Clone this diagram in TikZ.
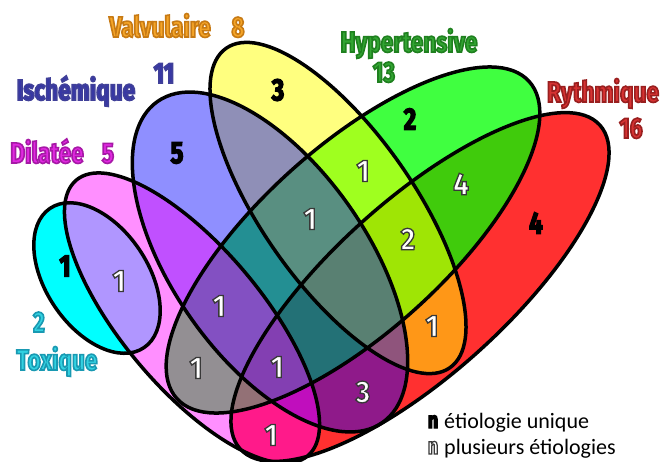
\documentclass[tikz,border=0pt]{standalone}
\usepackage{fontspec}
\setmainfont{Carlito}
\newfontfamily\labf[FakeStretch=0.78]{Fira Sans}
\newfontfamily\numf[FakeStretch=0.78]{Fira Sans}
\newfontfamily\wnumf[FakeStretch=0.9]{Fira Sans}
\definecolor{cRed}{RGB}{255,0,0}
\definecolor{cGreen}{RGB}{0,255,0}
\definecolor{cYellow}{RGB}{255,255,0}
\definecolor{cBlue}{RGB}{0,0,255}
\definecolor{cCyan}{RGB}{0,255,255}
\definecolor{cPink}{RGB}{255,0,255}
\definecolor{cLav}{RGB}{176,150,255}
\definecolor{tOrange}{RGB}{245,165,40}
\definecolor{tNavy}{RGB}{55,55,165}
\definecolor{tMag}{RGB}{225,40,225}
\definecolor{tGreen}{RGB}{50,165,50}
\definecolor{tRed}{RGB}{215,50,50}
\definecolor{tCyan}{RGB}{50,210,225}
% outlined text: #1 stroke colour (r g b), #2 stroke width, #3 text
\newcommand{\ostroke}[3]{\special{pdf:literal direct 2 Tr #2 w #1 RG}#3\special{pdf:literal direct 0 Tr}}
\newcommand{\labtxt}[3]{\textcolor{#1}{\ostroke{#2}{1.6}{#3}}}
\newcommand{\bnum}[1]{\textcolor{black}{\ostroke{0 0 0}{1.3}{#1}}}
\newcommand{\wnum}[1]{\textcolor{white}{\ostroke{0.22 0.22 0.22}{1.3}{#1}}}
\tikzset{
  outl/.style={draw=black, line width=3.5pt},
  lab/.style={inner sep=0pt, anchor=base, font=\labf\bfseries\fontsize{29}{30}\selectfont},
  num/.style={inner sep=0pt, font=\numf\bfseries\fontsize{31}{32}\selectfont},
  wn/.style={inner sep=0pt, font=\wnumf\bfseries\fontsize{31}{32}\selectfont},
  legn/.style={inner sep=0pt, anchor=base, font=\numf\bfseries\fontsize{23}{24}\selectfont},
  leg/.style={inner sep=0pt, anchor=base west, font=\fontsize{22}{24}\selectfont},
  eRed/.style={x radius=242pt, y radius=87pt, rotate=42},
  eGreen/.style={x radius=237pt, y radius=93pt, rotate=42},
  eYellow/.style={x radius=195pt, y radius=76pt, rotate=-55},
  eBlue/.style={x radius=196pt, y radius=97pt, rotate=-55},
  eCyan/.style={x radius=84pt, y radius=51pt, rotate=-56},
  ePink/.style={x radius=180pt, y radius=70pt, rotate=-50}
}
\begin{document}
\begin{tikzpicture}[x=1pt,y=1pt]
\useasboundingbox (0,0) rectangle (664,-461);
\fill[white] (0,0) rectangle (664,-461);
\coordinate (cr) at (420,-287);
\coordinate (cg) at (353,-240);
\coordinate (cy) at (338,-208);
\coordinate (cb) at (270,-262);
\coordinate (cc) at (97,-278);
\coordinate (cp) at (192,-318);
% fills (bottom to top)
\fill[cRed, fill opacity=0.81] (cr) ellipse [eRed];
\fill[cGreen, fill opacity=0.75] (cg) ellipse [eGreen];
\fill[cYellow, fill opacity=0.5] (cy) ellipse [eYellow];
\fill[cBlue, fill opacity=0.44] (cb) ellipse [eBlue];
\fill[cCyan] (cc) ellipse [eCyan];
\fill[cPink, fill opacity=0.44] (cp) ellipse [ePink];
\begin{scope}
  \clip (cc) ellipse [eCyan];
  \fill[cLav] (cp) ellipse [ePink];
\end{scope}
% outlines
\draw[outl] (cr) ellipse [eRed];
\draw[outl] (cg) ellipse [eGreen];
\draw[outl] (cy) ellipse [eYellow];
\draw[outl] (cb) ellipse [eBlue];
\draw[outl] (cc) ellipse [eCyan];
\draw[outl] (cp) ellipse [ePink];
% set labels
\node[lab] (valv) at (160,-37) {\labtxt{tOrange}{0.78 0.48 0.08}{Valvulaire}};
\node[lab] (valvn) at (238,-37) {\labtxt{tOrange}{0.78 0.48 0.08}{8}};
\node[lab] (ischn) at (164,-83) {\labtxt{tNavy}{0.25 0.25 0.6}{11}};
\node[lab] (isch) at (76,-100) {\labtxt{tNavy}{0.25 0.25 0.6}{Ischémique}};
\node[lab] (dil) at (47,-163) {\labtxt{tMag}{0.65 0.1 0.65}{Dilatée}};
\node[lab] (diln) at (108,-163) {\labtxt{tMag}{0.65 0.1 0.65}{5}};
\node[lab] (hyp) at (409,-52) {\labtxt{tGreen}{0.12 0.5 0.12}{Hypertensive}};
\node[lab] (hypn) at (384,-82) {\labtxt{tGreen}{0.12 0.5 0.12}{13}};
\node[lab] (ryt) at (603,-102) {\labtxt{tRed}{0.6 0.12 0.12}{Rythmique}};
\node[lab] (rytn) at (631,-138) {\labtxt{tRed}{0.6 0.12 0.12}{16}};
\node[lab] (toxn) at (39,-332) {\labtxt{tCyan}{0.1 0.6 0.7}{2}};
\node[lab] (tox) at (57,-370) {\labtxt{tCyan}{0.1 0.6 0.7}{Toxique}};
% counts
\node[num] (n1) at (278,-90) {\bnum{3}};
\node[num] (n2) at (177,-153) {\bnum{5}};
\node[num] (n3) at (410,-119) {\bnum{2}};
\node[num] (n4) at (536,-223) {\bnum{4}};
\node[num] (n5) at (65,-266) {\bnum{1}};
\node[wn] (n6) at (119,-281) {\wnum{1}};
\node[wn] (n7) at (363,-171) {\wnum{1}};
\node[wn] (n8) at (461,-184) {\wnum{4}};
\node[wn] (n9) at (310,-219) {\wnum{1}};
\node[wn] (n10) at (408,-239) {\wnum{2}};
\node[wn] (n11) at (219,-306) {\wnum{1}};
\node[wn] (n12) at (432,-326) {\wnum{1}};
\node[wn] (n13) at (196,-368) {\wnum{1}};
\node[wn] (n14) at (277,-367) {\wnum{1}};
\node[wn] (n15) at (363,-392) {\wnum{3}};
\node[wn] (n16) at (271,-435) {\wnum{1}};
% legend
\node[legn] (lg1) at (433,-428) {\bnum{n}};
\node[leg] (lt1) at (444,-428) {étiologie unique};
\node[legn] (lg2) at (433,-454) {\wnum{n}};
\node[leg] (lt2) at (444,-454) {plusieurs étiologies};
\end{tikzpicture}
\end{document}
